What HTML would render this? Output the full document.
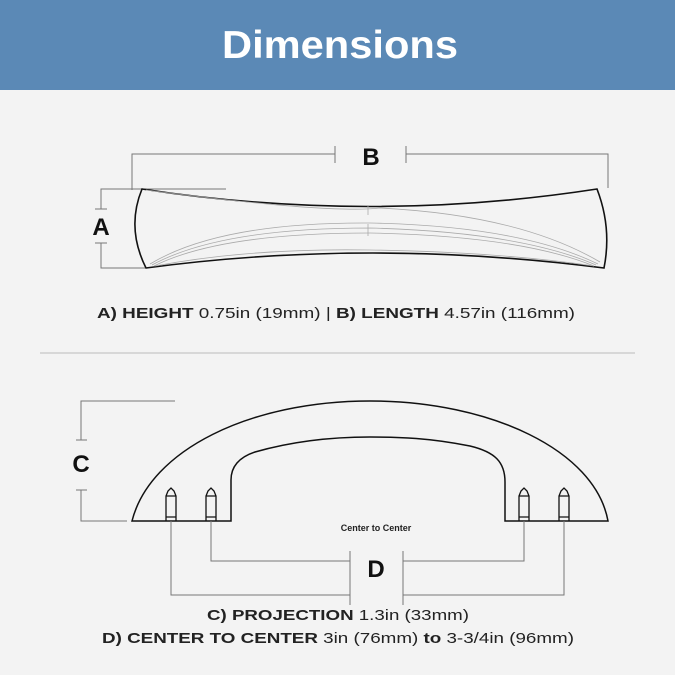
<!DOCTYPE html>
<html><head><style>
html,body{margin:0;padding:0;background:#f4f4f4;}
svg{display:block;}
text{font-family:"Liberation Sans",sans-serif;}
</style></head><body>
<svg width="675" height="675" viewBox="0 0 675 675" xmlns="http://www.w3.org/2000/svg">
<rect width="675" height="675" fill="#f3f3f3"/>
<rect width="675" height="90" fill="#5b89b6"/>
<text x="340" y="58" text-anchor="middle" font-size="39" font-weight="bold" fill="#fff" textLength="236" lengthAdjust="spacingAndGlyphs">Dimensions</text>

<g fill="none" stroke="#777" stroke-width="1">
<!-- B dimension -->
<polyline points="132,190 132,154 335,154"/>
<line x1="335" y1="146" x2="335" y2="163"/>
<line x1="406" y1="146" x2="406" y2="163"/>
<polyline points="406,154 608,154 608,188"/>
<!-- A dimension -->
<polyline points="226,189 101,189 101,209"/>
<polyline points="101,243 101,268 145,268"/>
<line x1="95" y1="209" x2="107" y2="209"/>
<line x1="95" y1="243" x2="107" y2="243"/>
</g>
<text x="371" y="165" text-anchor="middle" font-size="24" font-weight="bold" fill="#111">B</text>
<text x="101" y="235" text-anchor="middle" font-size="24" font-weight="bold" fill="#111">A</text>

<!-- handle top view -->
<path d="M142,189 Q370,224 597,189 Q612,228 604,268 Q370,238 146,268 Q126,228 142,189 Z" fill="none" stroke="#111" stroke-width="1.6"/>
<g fill="none" stroke="#aaa" stroke-width="0.8">
<path d="M146,190 Q330,214 380,208 Q520,215 600,262"/>
<path d="M150,264 Q220,222 370,223 Q520,226 598,264"/>
<path d="M152,265 Q220,228 370,228 Q520,232 596,265"/>
<path d="M154,266 Q220,233 370,233 Q520,236 594,266"/>
<path d="M155,266 Q250,248 370,250 Q500,252 594,266"/>
<line x1="368" y1="205" x2="368" y2="215"/>
<line x1="368" y1="224" x2="368" y2="236"/>
</g>

<text x="336" y="318" text-anchor="middle" font-size="15" fill="#222" textLength="478" lengthAdjust="spacingAndGlyphs"><tspan font-weight="bold">A) HEIGHT</tspan> 0.75in (19mm)   |   <tspan font-weight="bold">B) LENGTH</tspan> 4.57in (116mm)</text>

<line x1="40" y1="353" x2="635" y2="353" stroke="#bbb" stroke-width="1"/>

<!-- C dimension -->
<g fill="none" stroke="#777" stroke-width="1">
<polyline points="175,401 81,401 81,440"/>
<polyline points="81,490 81,521 127,521"/>
<line x1="76" y1="440" x2="87" y2="440"/>
<line x1="76" y1="490" x2="87" y2="490"/>
</g>
<text x="81" y="472" text-anchor="middle" font-size="24" font-weight="bold" fill="#111">C</text>

<!-- side view -->
<path d="M132,521 C150,450 250,401 370,401 C490,401 595,450 608,521 L505,521 L505,482 C505,462 495,452 470,446 C430,438 400,437 370,437 C330,437 290,442 255,452 C237,458 231,468 231,480 L231,521 Z" fill="none" stroke="#111" stroke-width="1.5"/>
<g fill="none" stroke="#111" stroke-width="1.3">
<g id="p"><path d="M166,521 L166,496 L168,491 L171,488 L174,491 L176,496 L176,521 M166,496 L176,496 M166,517 L176,517"/></g>
<use href="#p" x="40"/><use href="#p" x="353"/><use href="#p" x="393"/>
</g>

<!-- D dimension -->
<g fill="none" stroke="#777" stroke-width="1">
<polyline points="211,521 211,561 350,561"/>
<polyline points="403,561 524,561 524,521"/>
<polyline points="171,521 171,595 350,595"/>
<polyline points="403,595 564,595 564,521"/>
<line x1="350" y1="551" x2="350" y2="605"/>
<line x1="403" y1="551" x2="403" y2="605"/>
</g>
<text x="376" y="531" text-anchor="middle" font-size="9" font-weight="bold" fill="#222">Center to Center</text>
<text x="376" y="577" text-anchor="middle" font-size="24" font-weight="bold" fill="#111">D</text>

<text x="338" y="620" text-anchor="middle" font-size="15" fill="#222" textLength="262" lengthAdjust="spacingAndGlyphs"><tspan font-weight="bold">C) PROJECTION</tspan> 1.3in (33mm)</text>
<text x="338" y="643" text-anchor="middle" font-size="15" fill="#222" textLength="472" lengthAdjust="spacingAndGlyphs"><tspan font-weight="bold">D) CENTER TO CENTER</tspan> 3in (76mm) <tspan font-weight="bold">to</tspan> 3-3/4in (96mm)</text>
</svg>
</body></html>
